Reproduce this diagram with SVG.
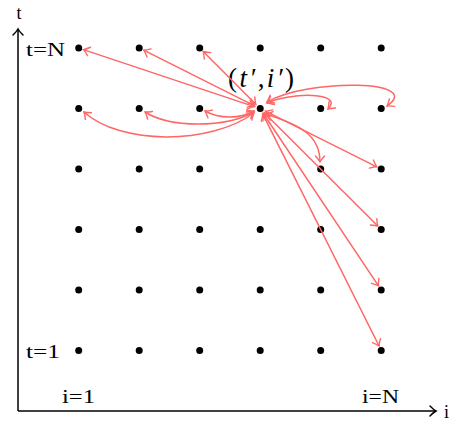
<svg xmlns="http://www.w3.org/2000/svg" width="449" height="423" viewBox="0 0 449 423">
<style>
.dot{fill:#000}
.lbl{font-family:"Liberation Serif","DejaVu Serif",serif;font-size:18px;fill:#000}
.ax{stroke:#000;stroke-width:1.5;fill:none}
.e{stroke:#ff6666;stroke-width:1.5;fill:none;marker-start:url(#rh);marker-end:url(#rh)}
</style>
<defs>
<marker id="rh" markerUnits="userSpaceOnUse" markerWidth="14" markerHeight="14" refX="0" refY="0" viewBox="-8 -7 10 14" orient="auto-start-reverse">
<path d="M-6,-4.5 Q-2,-1 0,0 Q-2,1 -6,4.5" fill="none" stroke="#ff6666" stroke-width="1.4" stroke-linecap="round"/>
</marker>
<marker id="bh" markerUnits="userSpaceOnUse" markerWidth="14" markerHeight="14" refX="0" refY="0" viewBox="-8 -7 10 14" orient="auto">
<path d="M-6,-5 Q-2,-1 0,0 Q-2,1 -6,5" fill="none" stroke="#000" stroke-width="1.5" stroke-linecap="round"/>
</marker>
</defs>
<g id="axes">
<line class="ax" x1="18" y1="411" x2="18" y2="29" marker-end="url(#bh)"/>
<line class="ax" x1="18" y1="411" x2="436" y2="411" marker-end="url(#bh)"/>
<text class="lbl" x="19" y="19" text-anchor="middle">t</text>
<text class="lbl" x="444" y="418">i</text>
<text class="lbl" x="26" y="56" textLength="39" lengthAdjust="spacingAndGlyphs">t=N</text>
<text class="lbl" x="26" y="358" textLength="34" lengthAdjust="spacingAndGlyphs">t=1</text>
<text class="lbl" x="62" y="403" textLength="33" lengthAdjust="spacingAndGlyphs">i=1</text>
<text class="lbl" x="362" y="403" textLength="37" lengthAdjust="spacingAndGlyphs">i=N</text>
</g>
<g id="grid">
<g id="row6"><circle class="dot" cx="78.7" cy="48" r="3.5"/><circle class="dot" cx="139.2" cy="48" r="3.5"/><circle class="dot" cx="199.7" cy="48" r="3.5"/><circle class="dot" cx="260.2" cy="48" r="3.5"/><circle class="dot" cx="320.7" cy="48" r="3.5"/><circle class="dot" cx="381.2" cy="48" r="3.5"/></g>
<g id="row5"><circle class="dot" cx="78.7" cy="108.5" r="3.5"/><circle class="dot" cx="139.2" cy="108.5" r="3.5"/><circle class="dot" cx="199.7" cy="108.5" r="3.5"/><circle class="dot" cx="320.7" cy="108.5" r="3.5"/><circle class="dot" cx="381.2" cy="108.5" r="3.5"/></g>
<g id="row4"><circle class="dot" cx="78.7" cy="169" r="3.5"/><circle class="dot" cx="139.2" cy="169" r="3.5"/><circle class="dot" cx="199.7" cy="169" r="3.5"/><circle class="dot" cx="260.2" cy="169" r="3.5"/><circle class="dot" cx="320.7" cy="169" r="3.5"/><circle class="dot" cx="381.2" cy="169" r="3.5"/></g>
<g id="row3"><circle class="dot" cx="78.7" cy="229.5" r="3.5"/><circle class="dot" cx="139.2" cy="229.5" r="3.5"/><circle class="dot" cx="199.7" cy="229.5" r="3.5"/><circle class="dot" cx="260.2" cy="229.5" r="3.5"/><circle class="dot" cx="320.7" cy="229.5" r="3.5"/><circle class="dot" cx="381.2" cy="229.5" r="3.5"/></g>
<g id="row2"><circle class="dot" cx="78.7" cy="290" r="3.5"/><circle class="dot" cx="139.2" cy="290" r="3.5"/><circle class="dot" cx="199.7" cy="290" r="3.5"/><circle class="dot" cx="260.2" cy="290" r="3.5"/><circle class="dot" cx="320.7" cy="290" r="3.5"/><circle class="dot" cx="381.2" cy="290" r="3.5"/></g>
<g id="row1"><circle class="dot" cx="78.7" cy="350.5" r="3.5"/><circle class="dot" cx="139.2" cy="350.5" r="3.5"/><circle class="dot" cx="199.7" cy="350.5" r="3.5"/><circle class="dot" cx="260.2" cy="350.5" r="3.5"/><circle class="dot" cx="320.7" cy="350.5" r="3.5"/><circle class="dot" cx="381.2" cy="350.5" r="3.5"/></g>
</g>
<g id="source">
<circle class="dot" cx="260.2" cy="108.5" r="3.5"/>
<text x="228" y="87" font-family="'Liberation Serif','DejaVu Serif',serif" font-size="27" textLength="66" lengthAdjust="spacing">(<tspan font-style="italic">t′</tspan>,<tspan font-style="italic">i′</tspan>)</text>
</g>
<g id="connectors">
<path class="e" d="M254.3,106.6 L83.4,49.6"/>
<path class="e" d="M254.6,105.8 L143.7,50.2"/>
<path class="e" d="M255.8,104.3 L203.2,51.5"/>
<path class="e" d="M254,111 C240,119 219,119 205,111"/>
<path class="e" d="M254,112 C225,128 170,128 145,112"/>
<path class="e" d="M254,113 C210,145 120,145 84,112"/>
<path class="e" d="M267,103 C290,92 345,92 328,109"/>
<path class="e" d="M267,102 C310,78 425,80 387,106"/>
<path class="e" d="M266,114 C300,125 320,135 320,162"/>
<path class="e" d="M265.4,111.2 L376.8,166.8"/>
<path class="e" d="M264.2,112.7 L377.8,226"/>
<path class="e" d="M263.3,113.5 L378.5,285.8"/>
<path class="e" d="M262.7,113.9 L379.1,346"/>
</g>
</svg>
